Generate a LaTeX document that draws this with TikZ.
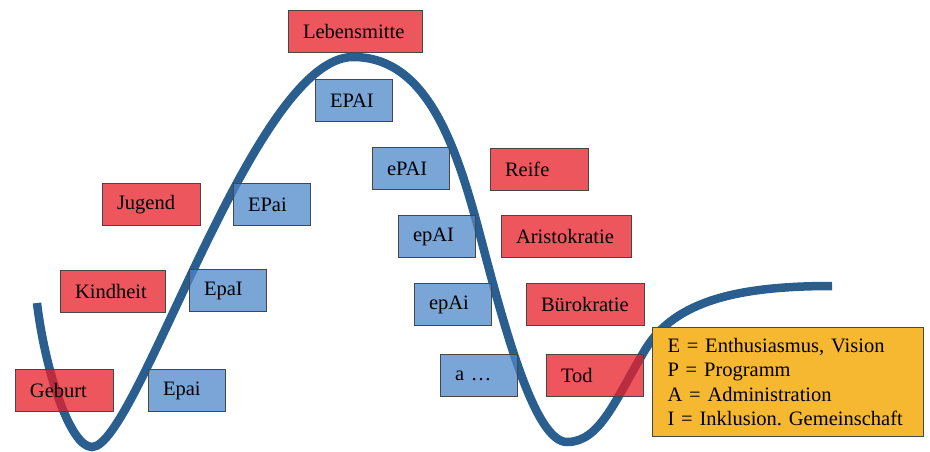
\documentclass[tikz,border=0pt]{standalone}
\usepackage{fontspec}
\setmainfont{Liberation Serif}
\newfontfamily\boxfont{Liberation Serif}
\definecolor{redfill}{RGB}{232,30,38}
\definecolor{bluefill}{RGB}{78,135,202}
\definecolor{legendfill}{RGB}{245,184,48}
\definecolor{curvecol}{RGB}{42,94,143}
\definecolor{boxline}{RGB}{70,70,70}
\begin{document}
\begin{tikzpicture}[x=1pt,y=-1pt,
  boxbase/.style={draw=boxline, line width=1pt, anchor=north west,
    inner xsep=14.5pt, inner ysep=0pt, minimum height=42pt, align=left,
    fill opacity=0.75, draw opacity=1, text opacity=1,
    font=\boxfont\fontsize{20.5}{24.5}\selectfont},
  redbox/.style={boxbase, fill=redfill},
  bluebox/.style={boxbase, fill=bluefill},
  legendbox/.style={draw=boxline, line width=1pt, anchor=north west, fill=legendfill,
    inner xsep=15pt, inner ysep=0pt, minimum height=109pt, align=left,
    text width=241pt, font=\boxfont\fontsize{20.5}{24.5}\selectfont},
  lifecurve/.style={draw=curvecol, line width=8.5pt}]
\useasboundingbox (0,0) rectangle (930,452);
\fill[white] (0,0) rectangle (930,452);
% curve
\draw[lifecurve] (37,303) .. controls (45,370) and (70,447) .. (92,447)
  .. controls (137,447) and (253,57) .. (353,57)
  .. controls (425,57) and (455,140) .. (480,235)
  .. controls (505,330) and (535,442) .. (567,442)
  .. controls (600,442) and (615,400) .. (645,350)
  .. controls (675,300) and (740,286) .. (832,286);
% red boxes
\node[redbox, text width=105pt] (lebensmitte) at (288,10) {Lebensmitte};
\node[redbox, text width=69pt] (jugend) at (102,183) {Jugend};
\node[redbox, text width=76pt] (kindheit) at (60,270) {Kindheit};
\node[redbox, text width=69pt] (geburt) at (15,369) {Geburt};
\node[redbox, text width=69pt] (reife) at (490,148) {Reife};
\node[redbox, text width=101pt] (aristokratie) at (501,215) {Aristokratie};
\node[redbox, text width=89pt] (buerokratie) at (526,283) {Bürokratie};
\node[redbox, text width=68pt] (tod) at (546,354) {Tod};
% blue boxes
\node[bluebox, text width=48pt] (EPAI) at (315,79) {EPAI};
\node[bluebox, text width=48pt] (ePAI) at (372,147) {ePAI};
\node[bluebox, text width=48pt] (EPai) at (233,183) {EPai};
\node[bluebox, text width=48pt] (epAI) at (398,215) {epAI};
\node[bluebox, text width=48pt] (EpaI) at (189,269) {EpaI};
\node[bluebox, text width=48pt] (epAi) at (414,283) {epAi};
\node[bluebox, text width=48pt] (aend) at (440,354) {a \ldots};
\node[bluebox, text width=48pt] (Epai) at (148,369) {Epai};
% legend
\node[legendbox] (legend) at (652,327) {E = Enthusiasmus, Vision\\P = Programm\\A = Administration\\I = Inklusion.\ Gemeinschaft};
\end{tikzpicture}
\end{document}
